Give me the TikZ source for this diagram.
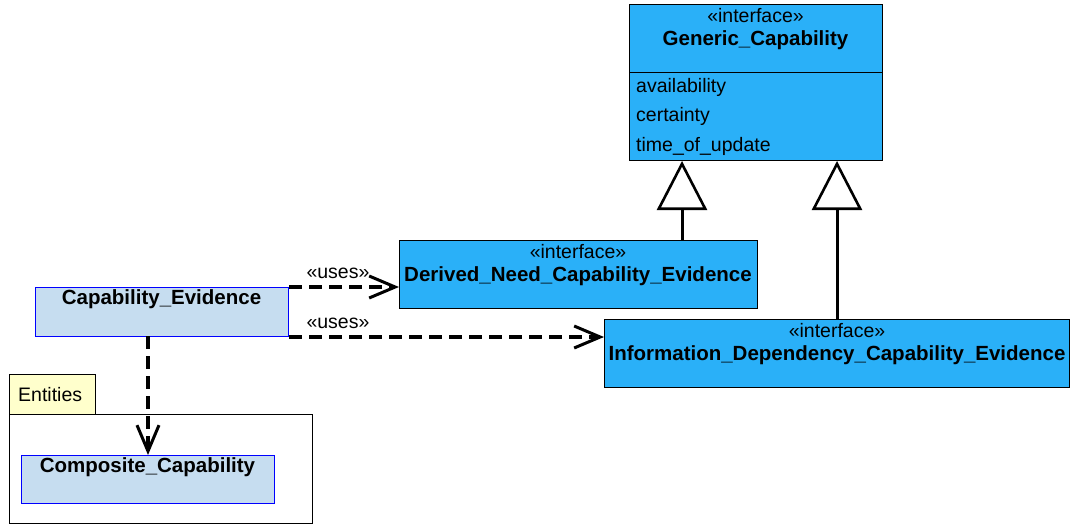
\documentclass[tikz,border=0pt]{standalone}
\usepackage{fontspec}
\setmainfont{Liberation Sans}
\usetikzlibrary{arrows.meta}

\definecolor{ifaceblue}{HTML}{2AB0F8}
\definecolor{classblue}{HTML}{C6DDF0}
\definecolor{pkgyellow}{HTML}{FFFFCC}

\begin{document}
\begin{tikzpicture}[x=1pt, y=-1pt,
    box/.style={rectangle, draw, line width=1pt, anchor=north west, inner sep=0pt},
    iface/.style={box, fill=ifaceblue},
    klass/.style={box, fill=classblue, draw=blue},
    stereo/.style={font=\fontsize{19.5}{22}\selectfont, anchor=center, inner sep=0pt},
    cname/.style={font=\fontsize{20.5}{23}\selectfont\bfseries, anchor=center, inner sep=0pt},
    attr/.style={font=\fontsize{19.5}{22}\selectfont, anchor=west, inner sep=0pt},
    uses/.style={dashed, dash pattern=on 13pt off 7pt, line width=3.2pt,
      -{Straight Barb[length=26pt, width=22pt, line width=3pt]}},
    inherit/.style={line width=3pt,
      -{Triangle[open, length=49pt, width=50pt, line width=2.6pt, fill=white]}}
  ]
  \useasboundingbox (0,0) rectangle (1070,525);

  % generic capability interface
  \node[iface, minimum width=253pt, minimum height=156pt] (gc) at (629,4) {};
  \draw[line width=1pt] (629,72) -- (882,72);
  \node[stereo] (gcst) at (755.5,16) {«interface»};
  \node[cname] (gcnm) at (755.5,40) {Generic\_Capability};
  \node[attr] (gca) at (636,87) {availability};
  \node[attr] (gcc) at (636,116) {certainty};
  \node[attr] (gct) at (636,146) {time\_of\_update};

  % derived and information interfaces
  \node[iface, minimum width=358pt, minimum height=68pt] (dn) at (399,240) {};
  \node[stereo] (dnst) at (578,252) {«interface»};
  \node[cname] (dnnm) at (578,276) {Derived\_Need\_Capability\_Evidence};

  \node[iface, minimum width=465pt, minimum height=68pt] (idc) at (604,319) {};
  \node[stereo] (idst) at (837,331) {«interface»};
  \node[cname] (idnm) at (837,355) {Information\_Dependency\_Capability\_Evidence};

  % classes
  \node[klass, minimum width=253pt, minimum height=49pt] (ce) at (35,287) {};
  \node[cname] (cenm) at (161.5,299) {Capability\_Evidence};

  % entities package
  \node[box, fill=pkgyellow, minimum width=86pt, minimum height=40pt] (enttab) at (9,374) {};
  \node[attr] (entnm) at (18,395) {Entities};
  \node[box, fill=white, minimum width=303pt, minimum height=109pt] (ent) at (9,414) {};
  \node[klass, minimum width=253pt, minimum height=48pt] (cc) at (21,455) {};
  \node[cname] (ccnm) at (147.5,467) {Composite\_Capability};

  % generalizations
  \coordinate (dntop) at (682,240);
  \coordinate (idtop) at (837,319);
  \draw[inherit] (dntop) -- (dntop |- gc.south);
  \draw[inherit] (idtop) -- (idtop |- gc.south);

  % dependencies
  \draw[uses] (ce.north east) -- (dn.west |- ce.north east);
  \node[stereo] (u1) at (338,273) {«uses»};
  \draw[uses] (ce.south east) -- (idc.west |- ce.south east);
  \node[stereo] (u2) at (338,323) {«uses»};
  \coordinate (cebot) at (148,336);
  \draw[uses] (cebot) -- (cebot |- cc.north);
\end{tikzpicture}
\end{document}
